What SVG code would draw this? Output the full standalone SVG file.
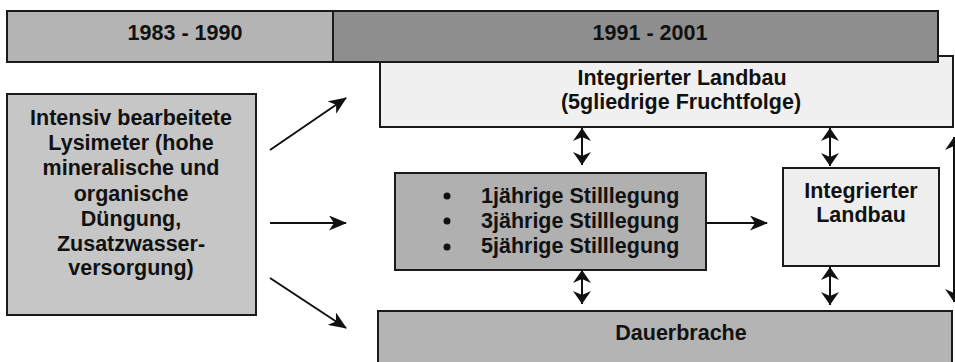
<svg xmlns="http://www.w3.org/2000/svg" width="955" height="362" viewBox="0 0 955 362">
<style>
text{font-family:"Liberation Sans",Arial,sans-serif;font-weight:bold;font-size:21.5px;fill:#111;text-anchor:middle}
.box{stroke:#1a1a1a;stroke-width:2}
.ln{stroke:#111;stroke-width:2;fill:none}
</style>
<defs>
<marker id="ah" viewBox="0 0 18 15" refX="17" refY="7.5" markerWidth="18" markerHeight="15" markerUnits="userSpaceOnUse" orient="auto-start-reverse">
<path d="M0,0 L18,7.5 L0,15 L5,7.5 z" fill="#111"/>
</marker>
<marker id="dh" viewBox="0 0 13 18" refX="13" refY="9" markerWidth="13" markerHeight="18" markerUnits="userSpaceOnUse" orient="auto-start-reverse">
<path d="M0,0 L13,9 L0,18 L4,9 z" fill="#111"/>
</marker>
</defs>
<rect width="955" height="362" fill="#fff"/>
<g id="n-integ-top">
<rect class="box" x="380" y="56" width="573" height="71" fill="#f0f0f0"/>
<text x="682" y="85">Integrierter Landbau</text>
<text x="681" y="109">(5gliedrige Fruchtfolge)</text>
</g>
<g id="n-period1">
<rect class="box" x="7" y="11" width="326" height="51" fill="#b4b4b4"/>
<text x="185" y="40">1983 - 1990</text>
</g>
<g id="n-period2">
<rect class="box" x="333" y="11" width="605" height="51" fill="#8e8e8e"/>
<text x="650" y="40">1991 - 2001</text>
</g>
<g id="n-intensiv">
<rect class="box" x="7" y="94" width="249" height="221" fill="#c6c6c6"/>
<text x="131" y="125">Intensiv bearbeitete</text>
<text x="131" y="150">Lysimeter (hohe</text>
<text x="131" y="175">mineralische und</text>
<text x="131" y="201">organische</text>
<text x="131" y="226">Düngung,</text>
<text x="131" y="251">Zusatzwasser-</text>
<text x="131" y="275">versorgung)</text>
</g>
<g id="n-stilllegung">
<rect class="box" x="395" y="173" width="311" height="97" fill="#b0b0b0"/>
<circle cx="447" cy="196" r="3.5" fill="#111"/>
<circle cx="447" cy="221" r="3.5" fill="#111"/>
<circle cx="447" cy="247" r="3.5" fill="#111"/>
<text x="481" y="203" style="text-anchor:start">1jährige Stilllegung</text>
<text x="481" y="228" style="text-anchor:start">3jährige Stilllegung</text>
<text x="481" y="253" style="text-anchor:start">5jährige Stilllegung</text>
</g>
<g id="n-integ-right">
<rect class="box" x="783" y="168" width="156" height="98" fill="#eeeeee"/>
<text x="861" y="198">Integrierter</text>
<text x="861" y="222">Landbau</text>
</g>
<g id="n-dauerbrache">
<rect class="box" x="378" y="311" width="574" height="60" fill="#b4b4b4"/>
<text x="681" y="340">Dauerbrache</text>
</g>
<g id="connectors">
<line class="ln" x1="270" y1="150" x2="346" y2="98" marker-end="url(#ah)"/>
<line class="ln" x1="270" y1="223" x2="346" y2="223" marker-end="url(#ah)"/>
<line class="ln" x1="270" y1="278" x2="346" y2="328" marker-end="url(#ah)"/>
<line class="ln" x1="706" y1="223" x2="767" y2="223" marker-end="url(#ah)"/>
<line class="ln" x1="582" y1="128" x2="582" y2="165" marker-start="url(#dh)" marker-end="url(#dh)"/>
<line class="ln" x1="582" y1="270" x2="582" y2="304" marker-start="url(#dh)" marker-end="url(#dh)"/>
<line class="ln" x1="830" y1="128" x2="830" y2="166" marker-start="url(#dh)" marker-end="url(#dh)"/>
<line class="ln" x1="830" y1="267" x2="830" y2="305" marker-start="url(#dh)" marker-end="url(#dh)"/>
<line class="ln" x1="954" y1="137" x2="954" y2="302" marker-start="url(#dh)" marker-end="url(#dh)"/>
</g>
</svg>
